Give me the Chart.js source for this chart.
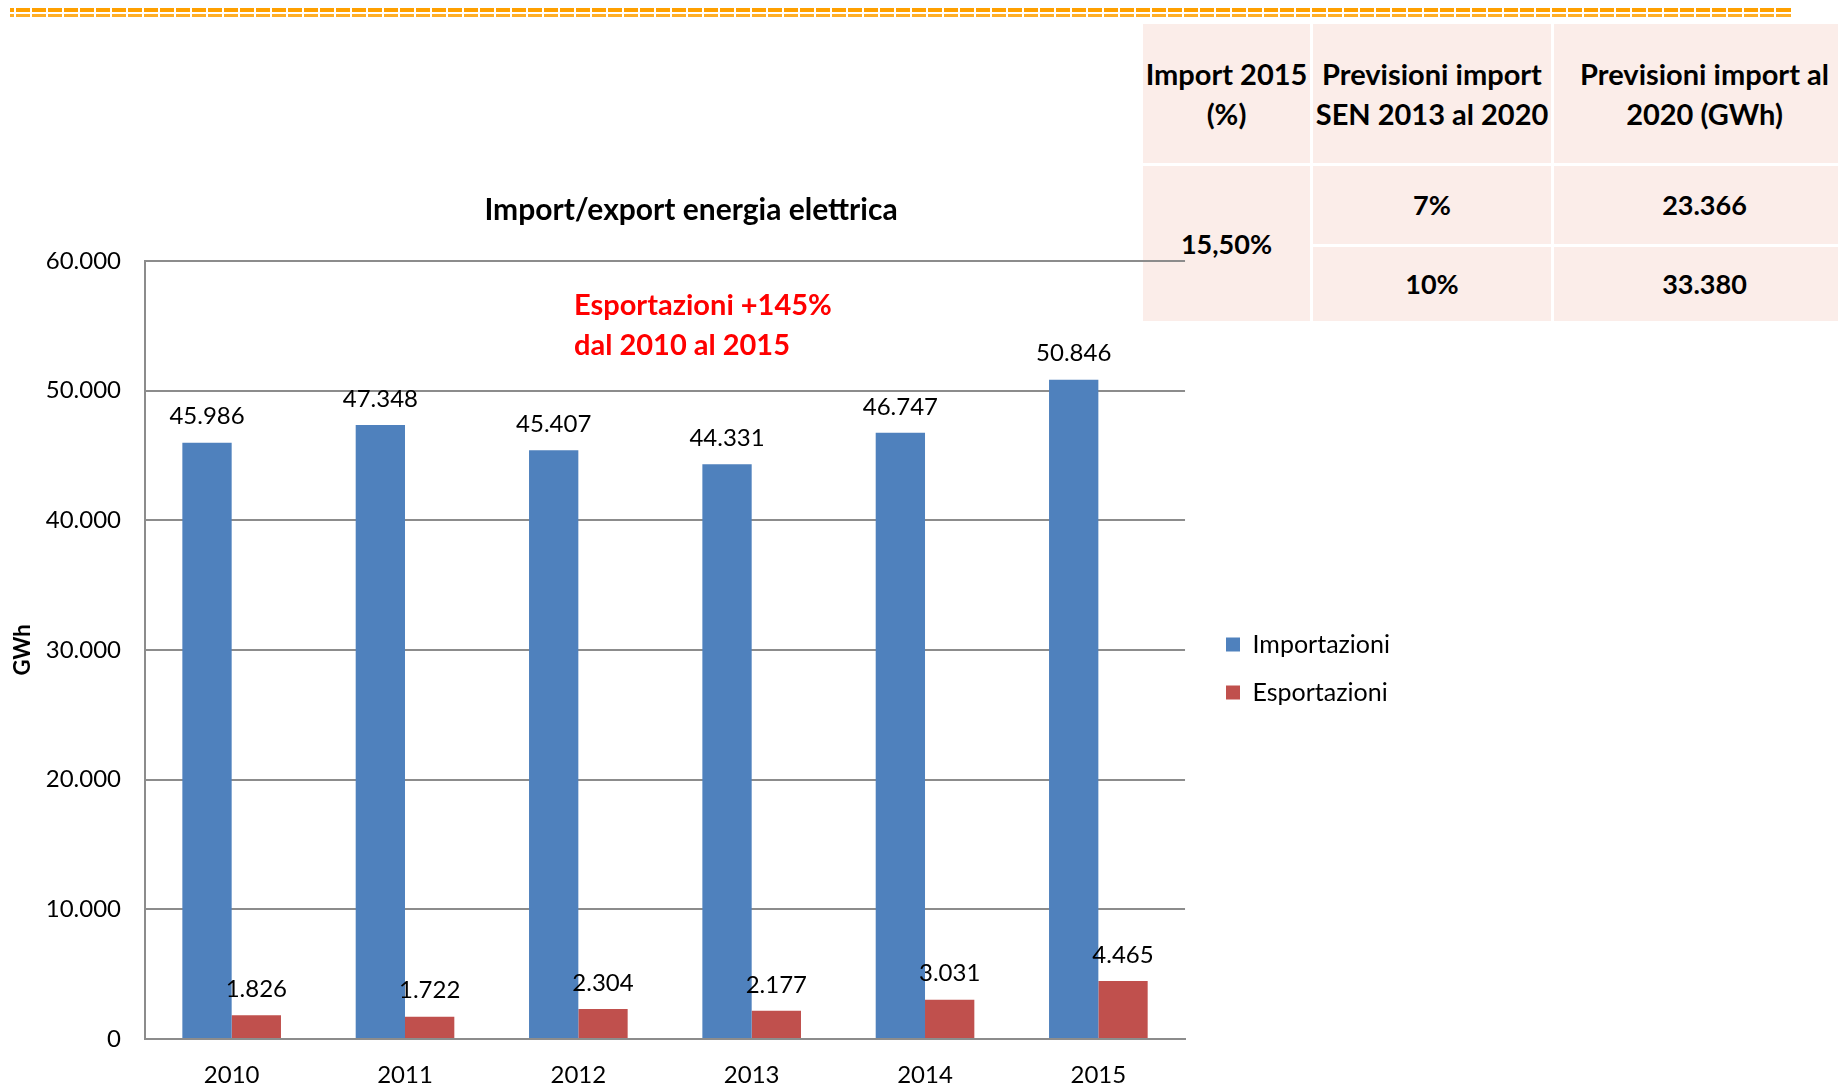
<!DOCTYPE html>
<html>
<head>
<meta charset="utf-8">
<script src="https://cdn.jsdelivr.net/npm/chart.js@4.4.1/dist/chart.umd.min.js"></script>
<style>
  html, body { margin: 0; padding: 0; background: #fff; overflow: hidden; }
  body { width: 1838px; height: 1086px; position: relative; font-family: Lato, sans-serif; }
  .dash { position: absolute; left: 10px; width: 1781px;
    background: repeating-linear-gradient(to right, #ffa000 0 14px, transparent 14px 16px);
    background-position: -10px 0; }
  #dash1 { top: 8px; height: 4px; }
  #dash2 { top: 14px; height: 3px; opacity: 0.85; }
  #tbl { position: absolute; left: 1140px; top: 21px; width: 715px; border-collapse: collapse; table-layout: fixed; }
  #tbl td { background: #fbede9; border: 3px solid #fff; text-align: center; vertical-align: middle;
    font-weight: bold; font-size: 27px; line-height: 40px; color: #000; padding: 0; white-space: nowrap; }
  #tbl tr.head td { font-size: 29px; }
  #note { position: absolute; left: 574px; top: 284px; color: #ff0000; font-weight: bold;
    font-size: 29px; line-height: 40px; z-index: 3; }
  #chart { position: absolute; left: 0; top: 0; z-index: 2; }
</style>
</head>
<body>
<div class="dash" id="dash1"></div>
<div class="dash" id="dash2"></div>

<table id="tbl">
  <colgroup><col style="width:170px"><col style="width:241px"><col style="width:304px"></colgroup>
  <tr class="head" style="height:142px">
    <td>Import 2015<br>(%)</td>
    <td>Previsioni import<br>SEN 2013 al 2020</td>
    <td>Previsioni import al<br>2020 (GWh)</td>
  </tr>
  <tr style="height:81px">
    <td rowspan="2">15,50%</td>
    <td>7%</td>
    <td>23.366</td>
  </tr>
  <tr style="height:77px">
    <td>10%</td>
    <td>33.380</td>
  </tr>
</table>

<div id="note">Esportazioni +145%<br>dal 2010 al 2015</div>

<canvas id="chart" width="1400" height="1086"></canvas>

<script>
const years = ["2010", "2011", "2012", "2013", "2014", "2015"];
const importazioni = [45986, 47348, 45407, 44331, 46747, 50846];
const esportazioni = [1826, 1722, 2304, 2177, 3031, 4465];
const yMax = 60000;
const yStep = 10000;

function fmt(v) {
  return String(v).replace(/\B(?=(\d{3})+(?!\d))/g, ".");
}

// numbers above each bar
const barLabels = {
  id: "barLabels",
  afterDatasetsDraw(chart) {
    const ctx = chart.ctx;
    ctx.save();
    ctx.font = "24px Lato";
    ctx.fillStyle = "#000";
    ctx.textAlign = "center";
    ctx.textBaseline = "middle";
    chart.data.datasets.forEach((ds, i) => {
      chart.getDatasetMeta(i).data.forEach((bar, j) => {
        ctx.fillText(fmt(ds.data[j]), bar.x, bar.y - 26);
      });
    });
    ctx.restore();
  },
};

function draw() {
  Chart.defaults.font.family = "Lato";
  Chart.defaults.color = "#000";

  new Chart(document.getElementById("chart"), {
    type: "bar",
    data: {
      labels: years,
      datasets: [
        {
          label: "Importazioni",
          data: importazioni,
          backgroundColor: "#4f81bd",
          borderWidth: 0,
          categoryPercentage: 0.569,
          barPercentage: 1,
        },
        {
          label: "Esportazioni",
          data: esportazioni,
          backgroundColor: "#c0504d",
          borderWidth: 0,
          categoryPercentage: 0.569,
          barPercentage: 1,
        },
      ],
    },
    options: {
      responsive: false,
      animation: false,
      // negative left padding so the full-width title centres where the original one does
      layout: { padding: { left: -18, right: 0, top: 0, bottom: 0 } },
      scales: {
        x: {
          grid: { display: false },
          border: { color: "#8c8c8c", width: 2 },
          ticks: { font: { size: 24 }, padding: 14 },
          afterFit(s) { s.height = 47; },
        },
        y: {
          min: 0,
          max: yMax,
          ticks: { stepSize: yStep, font: { size: 24 }, padding: 24, callback: (v) => fmt(v) },
          grid: { color: "#8c8c8c", lineWidth: 2, drawTicks: false },
          border: { color: "#8c8c8c", width: 2 },
          title: { display: true, text: "GWh", font: { size: 22, weight: "bold" }, padding: { top: 28, bottom: 0 } },
          afterFit(s) { s.width = 163; },
        },
        gap: {
          position: "right",
          grid: { display: false },
          ticks: { display: false },
          border: { display: false },
          afterFit(s) { s.width = 18; },
        },
      },
      plugins: {
        title: {
          display: true,
          text: "Import/export energia elettrica",
          font: { size: 30, weight: "bold" },
          color: "#000",
          padding: { top: 192, bottom: 33 },
        },
        legend: {
          position: "right",
          fullSize: false,
          title: { display: true, text: " ", font: { size: 1, lineHeight: 1 }, padding: { top: 18, bottom: 18 } },
          labels: { font: { size: 25 }, boxWidth: 14, boxHeight: 14, padding: 23, color: "#000" },
        },
        tooltip: { enabled: false },
      },
    },
    plugins: [barLabels],
  });
}

Promise.all([
  document.fonts.load("24px Lato"),
  document.fonts.load("bold 30px Lato"),
]).then(draw, draw);
</script>
</body>
</html>
